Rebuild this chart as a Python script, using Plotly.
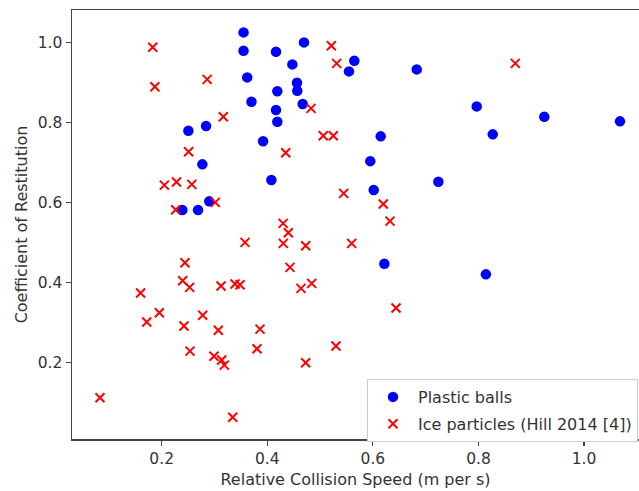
import plotly.graph_objects as go

plastic_speed = [0.355, 0.355, 0.4165, 0.362, 0.419, 0.370, 0.4165, 0.419,
                 0.2505, 0.284, 0.392, 0.277, 0.4077, 0.290, 0.239, 0.2688,
                 0.4695, 0.4474, 0.5648, 0.5547, 0.683, 0.4562, 0.4568, 0.467,
                 0.6148, 0.595, 0.724, 0.6015, 0.7966, 0.827, 0.9246, 1.068,
                 0.6217, 0.814]
plastic_cor = [1.025, 0.979, 0.9765, 0.9125, 0.878, 0.8515, 0.831, 0.8015,
               0.779, 0.791, 0.753, 0.695, 0.656, 0.6025, 0.581, 0.581,
               1.000, 0.945, 0.954, 0.9275, 0.9325, 0.899, 0.879, 0.8458,
               0.765, 0.703, 0.6515, 0.631, 0.84, 0.77, 0.814, 0.8025,
               0.4465, 0.42]

ice_speed = [0.183, 0.187, 0.286, 0.3167, 0.251, 0.205, 0.228, 0.257, 0.3015, 0.2265,
             0.5213, 0.5314, 0.4828, 0.506, 0.525, 0.4349, 0.5447, 0.6197, 0.6324, 0.430,
             0.8697,
             0.3578, 0.2441, 0.160, 0.2397, 0.253, 0.3123, 0.3388, 0.3483, 0.1955, 0.1716,
             0.2777, 0.2422, 0.3072, 0.3862, 0.2536, 0.3805, 0.299, 0.3136, 0.3186, 0.0831,
             0.3345,
             0.4398, 0.4303, 0.4727, 0.5598, 0.443, 0.4841, 0.4638, 0.6438, 0.530, 0.4727]
ice_cor = [0.988, 0.889, 0.9075, 0.814, 0.7265, 0.643, 0.651, 0.645, 0.600, 0.5815,
           0.9915, 0.9475, 0.835, 0.7665, 0.7665, 0.724, 0.6225, 0.5958, 0.553, 0.5475,
           0.9475,
           0.500, 0.449, 0.3733, 0.404, 0.3875, 0.391, 0.396, 0.394, 0.324, 0.3008,
           0.3175, 0.2908, 0.28, 0.283, 0.228, 0.234, 0.215, 0.2058, 0.193, 0.1115,
           0.0625,
           0.524, 0.4975, 0.4915, 0.4975, 0.4375, 0.3975, 0.385, 0.3358, 0.2408, 0.199]

x_ticks = [0.2, 0.4, 0.6, 0.8, 1.0]
y_ticks = [0.2, 0.4, 0.6, 0.8, 1.0]

font_family = "DejaVu Sans"
text_color = "#333333"

fig = go.Figure()
fig.add_trace(go.Scatter(
    x=plastic_speed, y=plastic_cor, mode="markers", name="Plastic balls",
    legendgroup="a",
    marker=dict(symbol="circle", size=10.5, color="#0000ff", line=dict(width=0)),
))
fig.add_trace(go.Scatter(
    x=ice_speed, y=ice_cor, mode="markers", name="Ice particles (Hill 2014 [4])",
    legendgroup="b",
    marker=dict(symbol="x-thin", size=9, color="#ff0000",
                line=dict(width=2, color="#ff0000")),
))

axis_color = "#444444"
fig.update_layout(
    width=639, height=491, autosize=False,
    margin=dict(l=72, r=0, t=10, b=52),
    paper_bgcolor="white", plot_bgcolor="white",
    font=dict(family=font_family, size=16, color=text_color),
    showlegend=True,
    hovermode=False,
    legend=dict(
        x=(367 - 72) / 567, y=(439 - 379) / 429, xanchor="left", yanchor="top",
        bgcolor="white", bordercolor="#cccccc", borderwidth=1,
        font=dict(family=font_family, size=16, color=text_color),
        tracegroupgap=3, itemwidth=40,
    ),
    xaxis=dict(
        range=[0.0301, 1.104], tickvals=x_ticks,
        ticktext=[f"{v:.1f}" for v in x_ticks],
        showgrid=False, zeroline=False,
        showline=True, linecolor=axis_color, linewidth=1.5, mirror=True,
        ticks="outside", ticklen=5, tickwidth=1.2, tickcolor=axis_color,
        tickfont=dict(family=font_family, size=15.5, color=text_color),
        title=dict(text="Relative Collision Speed (m per s)",
                   font=dict(family=font_family, size=16, color=text_color),
                   standoff=6),
    ),
    yaxis=dict(
        range=[0.00825, 1.081], tickvals=y_ticks,
        ticktext=[f"{v:.1f}" for v in y_ticks],
        showgrid=False, zeroline=False,
        showline=True, linecolor=axis_color, linewidth=1.5, mirror=False,
        ticks="outside", ticklen=5, tickwidth=1.2, tickcolor=axis_color,
        tickfont=dict(family=font_family, size=15.5, color=text_color),
        title=dict(text="Coefficient of Restitution",
                   font=dict(family=font_family, size=16, color=text_color),
                   standoff=6),
    ),
)

fig.write_html(
    "out.html",
    config={"displayModeBar": False, "staticPlot": True},
    post_script="document.body.style.margin='0px';document.body.style.overflow='hidden';",
)
